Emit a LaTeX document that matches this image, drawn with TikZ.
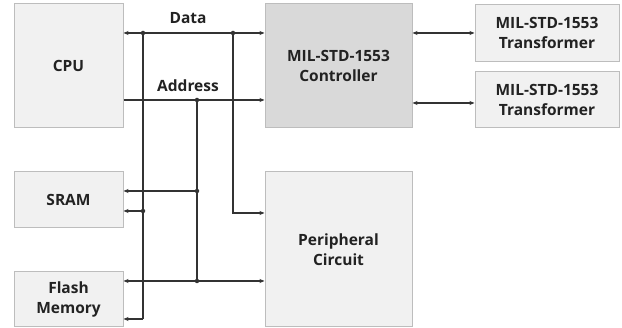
\documentclass[tikz,border=0pt]{standalone}
\usepackage{fontspec}
\setmainfont{Open Sans}
\usetikzlibrary{arrows.meta}
\definecolor{boxfill}{HTML}{F1F1F1}
\definecolor{ctrlfill}{HTML}{D9D9D9}
\definecolor{boxline}{HTML}{BDBDBD}
\definecolor{wire}{HTML}{333333}
\definecolor{txt}{HTML}{222222}
\begin{document}
\begin{tikzpicture}[x=1pt,y=-1pt,
  blk/.style={draw=boxline,line width=1pt,fill=boxfill,rectangle,inner sep=0pt,align=center,
    text=txt,font=\fontsize{15.5}{20}\selectfont\bfseries},
  ctl/.style={blk,fill=ctrlfill},
  wireline/.style={draw=wire,line width=1.3pt},
  tip/.style={wireline,-{Stealth[length=5pt,width=4pt]}},
  tips/.style={wireline,{Stealth[length=5pt,width=4pt]}-{Stealth[length=5pt,width=4pt]}},
  dot/.style={circle,fill=wire,inner sep=0pt,minimum size=4.5pt},
  lbl/.style={text=txt,font=\fontsize{15.5}{18}\selectfont\bfseries}]
\useasboundingbox (0,0) rectangle (622,328);
\fill[white] (0,0) rectangle (622,328);
\node[blk,minimum width=109pt,minimum height=124pt] (cpu) at (68.5,66) {CPU};
\node[ctl,minimum width=147pt,minimum height=124pt] (ctrl) at (338.5,66) {MIL-STD-1553\\Controller};
\node[blk,minimum width=144pt,minimum height=57pt] (t1) at (547,33) {MIL-STD-1553\\Transformer};
\node[blk,minimum width=144pt,minimum height=56pt] (t2) at (547,100) {MIL-STD-1553\\Transformer};
\node[blk,minimum width=109pt,minimum height=56pt] (sram) at (68.5,200) {SRAM};
\node[blk,minimum width=109pt,minimum height=55pt] (flash) at (68.5,299.5) {Flash\\Memory};
\node[blk,minimum width=147pt,minimum height=155pt] (periph) at (338.5,249.5) {Peripheral\\Circuit};
\coordinate (d1) at (143,33);
\coordinate (d2) at (233,33);
\coordinate (a1) at (197,100);
\coordinate (s1) at (197,191);
\coordinate (s2) at (143,211);
\coordinate (f1) at (197,281);
\coordinate (f2) at (143,319);
\coordinate (p1) at (233,213);
\coordinate (x1) at (0,33);
\coordinate (x2) at (0,103);
\draw[tips] (cpu.east|-d1) -- (ctrl.west|-d1);
\draw[tip] (cpu.east|-a1) -- (ctrl.west|-a1);
\draw[tips] (ctrl.east|-x1) -- (t1.west|-x1);
\draw[tips] (ctrl.east|-x2) -- (t2.west|-x2);
\draw[wireline] (d1) -- (f2);
\draw[tip] (f2) -- (flash.east|-f2);
\draw[tip] (s2) -- (sram.east|-s2);
\draw[tip] (d2) -- (p1) -- (periph.west|-p1);
\draw[wireline] (a1) -- (f1);
\draw[tip] (s1) -- (sram.east|-s1);
\draw[tips] (flash.east|-f1) -- (periph.west|-f1);
\foreach \p in {d1,d2,a1,s1,s2,f1} \node[dot] at (\p) {};
\node[lbl] (data) at (188,18) {Data};
\node[lbl] (addr) at (188,86) {Address};
\end{tikzpicture}
\end{document}
